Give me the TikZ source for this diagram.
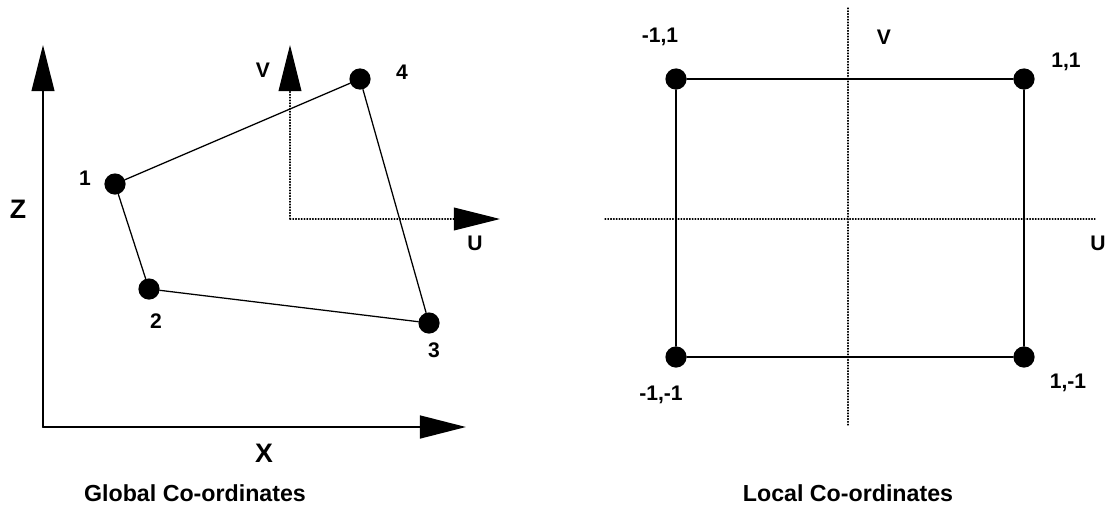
\documentclass[tikz,border=0pt]{standalone}
\usepackage{fontspec}
\setmainfont{Liberation Sans}
\usetikzlibrary{arrows.meta}

\begin{document}
\begin{tikzpicture}[x=0.025cm, y=-0.025cm, line join=round, line cap=round,
    dot/.style={circle, fill=black, inner sep=0pt, minimum size=0.53cm},
    edge/.style={line width=0.9pt},
    axis/.style={line width=1pt, -{Triangle[length=1.15cm, width=0.57cm]}},
    guide/.style={line width=0.8pt, dash pattern=on 0.6pt off 1.4pt},
    lbl/.style={font=\bfseries\fontsize{15}{15}\selectfont},
    axlbl/.style={font=\bfseries\fontsize{19}{19}\selectfont},
    title/.style={font=\bfseries\fontsize{16.5}{16.5}\selectfont}]
      \useasboundingbox (0,0) rectangle (1118,506);
      % global axes
      \coordinate (O) at (43,427);
      \coordinate (Ztip) at (43,45); \coordinate (Xtip) at (466,427);
      \draw[axis] (O) -- (Ztip);
      \draw[axis, line width=1.5pt] (O) -- (Xtip);
      \node[axlbl] (zlab) at (18,209) {Z};
      \node[axlbl] (xlab) at (264,453) {X};
      \node[title] (gtitle) at (195,493) {Global Co-ordinates};
      % element in global space
      \node[dot] (n1) at (115,184) {};
      \node[dot] (n2) at (149,289) {};
      \node[dot] (n3) at (429,323) {};
      \node[dot] (n4) at (360,79) {};
      \draw[edge] (n1) -- (n2) -- (n3) -- (n4) -- (n1);
      \node[lbl] (l1) at (85,178) {1};
      \node[lbl] (l2) at (156,321) {2};
      \node[lbl] (l3) at (434,350) {3};
      \node[lbl] (l4) at (402,72) {4};
      % local axes on the element
      \coordinate (L) at (290,219);
      \coordinate (Lv) at (290,45); \coordinate (Lu) at (500,219);
      \draw[guide, -{Triangle[length=1.15cm, width=0.57cm]}] (L) -- (Lv);
      \draw[guide, -{Triangle[length=1.15cm, width=0.57cm]}] (L) -- (Lu);
      \node[lbl] (lv) at (263,70) {V};
      \node[lbl] (lu) at (475,243) {U};
      % parent element
      \coordinate (vt) at (848,8); \coordinate (vb) at (848,425);
      \coordinate (ul) at (605,219); \coordinate (ur) at (1095,219);
      \draw[guide] (vt) -- (vb);
      \draw[guide] (ul) -- (ur);
      \node[dot] (m1) at (676,79) {};
      \node[dot] (m2) at (1024,79) {};
      \node[dot] (m3) at (1024,357) {};
      \node[dot] (m4) at (676,357) {};
      \draw[edge] (m1) -- (m2) -- (m3) -- (m4) -- (m1);
      \node[lbl] (k1) at (660,37) {-1,1};
      \node[lbl] (k2) at (1066,62) {1,1};
      \node[lbl] (k3) at (1068,383) {1,-1};
      \node[lbl] (k4) at (661,395) {-1,-1};
      \node[lbl] (kv) at (884,37) {V};
      \node[lbl] (ku) at (1098,243) {U};
      \node[title] (ltitle) at (848,493) {Local Co-ordinates};
    \end{tikzpicture}
\end{document}
